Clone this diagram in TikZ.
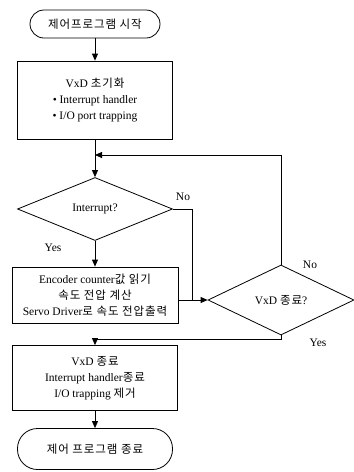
\documentclass[tikz,border=0pt]{standalone}
\usepackage{fontspec}
\setmainfont{Liberation Serif}
\newfontfamily\kr[LetterSpace=8]{Noto Sans CJK KR}
\usetikzlibrary{shapes.geometric,arrows.meta}

\begin{document}
\begin{tikzpicture}[x=1pt,y=-1pt,thick,font=\fontsize{11.5}{16}\selectfont,
  arr/.style={-{Triangle[length=7pt,width=6pt]}},
  term/.style={draw,rounded corners=14pt,inner sep=0pt},
  proc/.style={draw,align=center,inner sep=0pt},
  decide/.style={draw,diamond,inner sep=0pt}]
          \useasboundingbox (0,0) rectangle (354,472);

          \coordinate (merge) at (95,155);
          \coordinate (join) at (192,300);

          \node[term,minimum width=130pt,minimum height=28pt] (start) at (95,24) {\kr 제어프로그램 시작};
          \node[proc,minimum width=155pt,minimum height=78pt] (init) at (95,100)
            {VxD {\kr 초기화}\\ • Interrupt handler\\ • I/O port trapping};
          \node[decide,minimum width=155pt,minimum height=63pt] (intr) at (95,209) {Interrupt?};
          \node[proc,minimum width=166pt,minimum height=56pt] (calc) at (95,295)
            {Encoder counter{\kr 값 읽기}\\ {\kr 속도 전압 계산}\\ Servo Driver{\kr 로 속도 전압출력}};
          \node[decide,minimum width=146pt,minimum height=70pt] (vxd) at (281,300) {VxD {\kr 종료}?};
          \node[proc,minimum width=165pt,minimum height=65pt] (stop) at (95,378)
            {VxD {\kr 종료}\\ Interrupt handler{\kr 종료}\\ I/O trapping {\kr 제거}};
          \node[term,rounded corners=20pt,minimum width=155pt,minimum height=41pt] (end) at (95,449) {\kr 제어 프로그램 종료};

          \draw[arr] (start) -- (init);
          \draw (init) -- (merge);
          \draw[arr] (merge) -- (intr);
          \draw[arr] (intr) -- (calc);
          \draw (intr.east) -| (join);
          \draw[arr] (calc.east |- vxd.west) -- (vxd.west);
          \draw[arr] (vxd.north) |- (merge);
          \draw[arr] (vxd.south) -- ++(0,4) -| (stop.north);
          \draw[arr] (stop) -- (end);

          \node (no1) at (183,197) {No};
          \node (yes1) at (53,248) {Yes};
          \node (no2) at (310,265) {No};
          \node (yes2) at (318,343) {Yes};
\end{tikzpicture}
\end{document}
